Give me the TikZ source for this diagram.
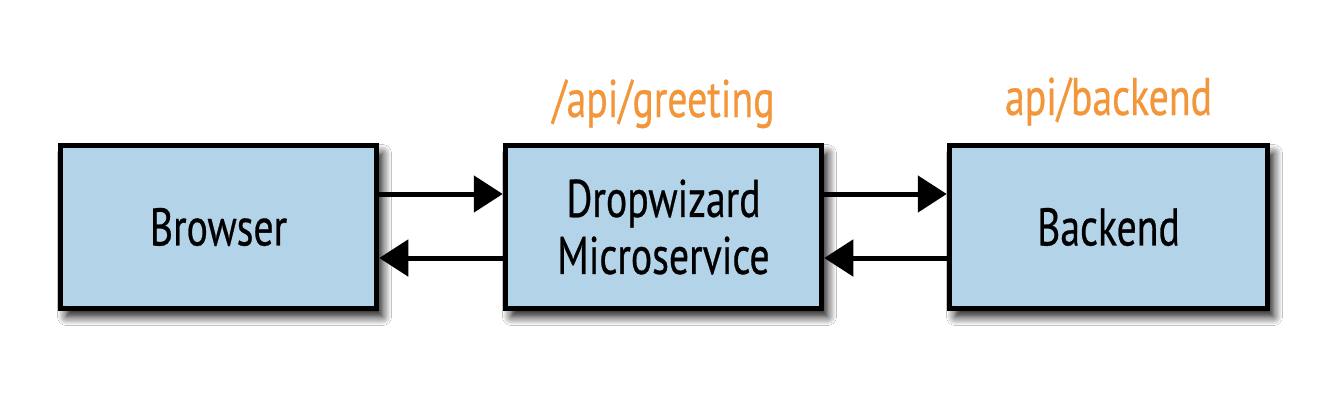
\documentclass[tikz,border=0pt]{standalone}
\usepackage{fontspec}
\setmainfont{PT Sans}[FakeStretch=0.75, FakeBold=0.5]
\usetikzlibrary{arrows.meta,shadows.blur}
\definecolor{boxblue}{HTML}{B3D3E8}
\definecolor{apiorange}{HTML}{F3963A}
\tikzset{
  box/.style={draw=black, line width=5.5pt, fill=boxblue, minimum width=316pt,
    minimum height=163pt, inner sep=0pt, align=center,
    font=\fontsize{53}{57}\selectfont,
    blur shadow={shadow xshift=6pt, shadow yshift=-8pt, shadow blur radius=9pt, shadow blur steps=12, shadow opacity=95}},
  arr/.style={line width=5pt, -{Triangle[length=29pt,width=36pt]}},
  api/.style={text=apiorange, font=\fontsize{53}{57}\selectfont, anchor=base, inner sep=0pt}
}
\begin{document}
\begin{tikzpicture}[x=1pt,y=-1pt]
\useasboundingbox[fill=white] (0,0) rectangle (1342,410);
\node[box] (browser) at (218.5,227) {Browser};
\node[box] (micro) at (663.5,227) {Dropwizard\\Microservice};
\node[box, minimum width=318pt] (backend) at (1108.5,227) {Backend};
\node[api] (greet) at (663.5,117) {/api/greeting};
\node[api] (back) at (1108.5,115) {api/backend};
\draw[arr] (browser.east |- 0,194) -- (micro.west |- 0,194);
\draw[arr] (micro.west |- 0,258) -- (browser.east |- 0,258);
\draw[arr] (micro.east |- 0,194) -- (backend.west |- 0,194);
\draw[arr] (backend.west |- 0,258) -- (micro.east |- 0,258);
\end{tikzpicture}
\end{document}
